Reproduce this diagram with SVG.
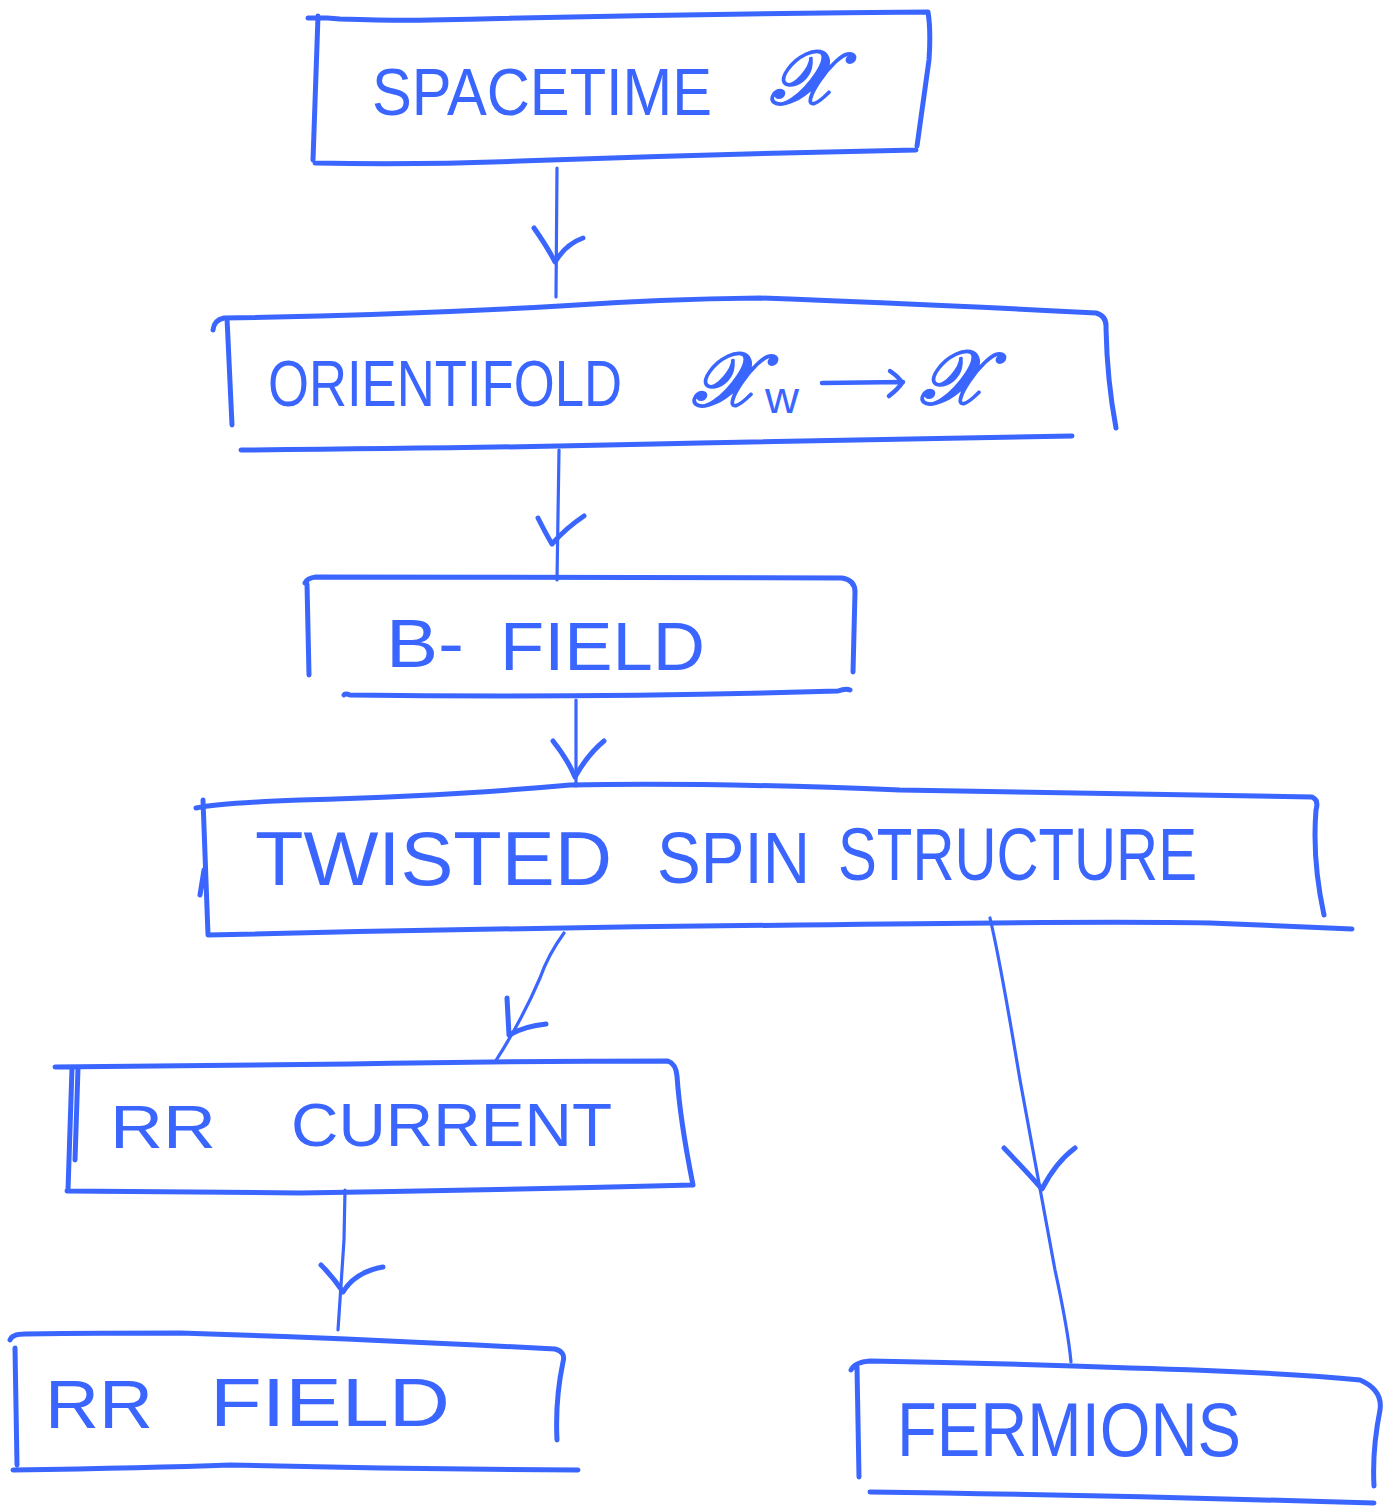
<svg xmlns="http://www.w3.org/2000/svg" width="1390" height="1508" viewBox="0 0 1390 1508">
  <style>
    .ink { fill: none; stroke: #3a66ff; stroke-linecap: round; stroke-linejoin: round; }
    .frame { stroke-width: 5; }
    .wire { stroke-width: 3.2; }
    .head { stroke-width: 5; }
    .label { fill: #3a66ff; font-family: "Liberation Sans", "DejaVu Sans", sans-serif; font-weight: normal; }
    .math { fill: #3a66ff; stroke: #3a66ff; stroke-width: 2.5; stroke-linejoin: round; font-family: "DejaVu Serif", "Liberation Serif", serif; font-style: italic; }
  </style>
  <rect width="1390" height="1508" fill="#ffffff"/>

  <!-- connectors -->
  <g id="connectors" class="ink">
    <path class="wire" d="M557 168 L556 297"/>
    <path class="head" d="M534 228 Q548 248 555 262 Q566 244 583 238"/>

    <path class="wire" d="M559 450 L557 580"/>
    <path class="head" d="M538 518 Q546 534 552 544 Q566 528 584 516"/>

    <path class="wire" d="M576 700 L576 786"/>
    <path class="head" d="M553 741 Q568 760 575 777 Q588 754 604 741"/>

    <path class="wire" d="M564 933 Q548 955 540 978 Q522 1020 495 1062"/>
    <path class="head" d="M507 998 L509 1035 Q525 1026 546 1024"/>

    <path class="wire" d="M990 918 Q1000 960 1020 1080 Q1040 1190 1055 1270 Q1068 1330 1071 1362"/>
    <path class="head" d="M1004 1148 Q1025 1170 1042 1189 Q1056 1162 1075 1148"/>

    <path class="wire" d="M345 1190 L344 1240 L338 1330"/>
    <path class="head" d="M321 1265 Q334 1278 343 1292 Q355 1272 383 1267"/>
  </g>

  <!-- spacetime -->
  <g id="node-spacetime">
    <path class="ink frame" d="M308 18 Q320 17 340 19 Q400 21 430 20 Q680 14 928 12 Q931 30 929 60 L917 146 M318 16 L313 160 M315 163 Q420 165 520 161 Q720 154 916 150"/>
    <text class="label" x="372" y="115" font-size="66" textLength="340" lengthAdjust="spacingAndGlyphs">SPACETIME</text>
    <text class="math" x="770" y="104" font-size="76">𝒳</text>
  </g>

  <!-- orientifold -->
  <g id="node-orientifold">
    <path class="ink frame" d="M213 330 Q214 320 224 318 Q400 315 560 306 Q660 299 760 298 Q900 303 1096 313 Q1107 316 1106 328 Q1107 380 1116 428 M227 318 L232 425 M241 450 Q500 448 700 443 Q900 440 1072 436"/>
    <text class="label" x="268" y="406" font-size="64" textLength="354" lengthAdjust="spacingAndGlyphs">ORIENTIFOLD</text>
    <text class="math" x="692" y="406" font-size="76">𝒳</text>
    <text class="label" x="765" y="413" font-size="44" textLength="34" lengthAdjust="spacingAndGlyphs">w</text>
    <path class="ink" stroke-width="4.5" d="M822 383 L903 382 M890 371 Q900 378 902 383 Q898 389 889 396"/>
    <text class="math" x="920" y="404" font-size="76">𝒳</text>
  </g>

  <!-- b-field -->
  <g id="node-bfield">
    <path class="ink frame" d="M305 583 Q307 578 316 577 Q550 578 842 578 Q855 580 855 592 L853 672 M307 584 L309 675 M344 695 Q345 693 350 695 Q600 698 838 691 Q846 688 850 690"/>
    <text class="label" x="386" y="667" font-size="68" textLength="78" lengthAdjust="spacingAndGlyphs">B-</text>
    <text class="label" x="500" y="670" font-size="68" textLength="205" lengthAdjust="spacingAndGlyphs">FIELD</text>
  </g>

  <!-- twisted spin structure -->
  <g id="node-twisted">
    <path class="ink frame" d="M196 808 Q220 803 300 800 Q450 796 570 785 Q700 782 900 790 Q1200 795 1312 797 Q1319 800 1316 810 Q1312 860 1324 915 M203 800 L208 935 M204 870 L200 895 M208 935 Q500 928 800 925 Q1100 921 1210 923 Q1280 926 1352 929"/>
    <text class="label" x="255" y="885" font-size="76" textLength="357" lengthAdjust="spacingAndGlyphs">TWISTED</text>
    <text class="label" x="657" y="883" font-size="72" textLength="153" lengthAdjust="spacingAndGlyphs">SPIN</text>
    <text class="label" x="838" y="880" font-size="74" textLength="359" lengthAdjust="spacingAndGlyphs">STRUCTURE</text>
  </g>

  <!-- rr current -->
  <g id="node-rrcurrent">
    <path class="ink frame" d="M55 1067 Q200 1066 350 1064 Q520 1061 668 1061 Q676 1064 677 1076 Q680 1120 693 1185 M72 1068 L68 1190 M78 1068 L75 1160 M67 1191 Q200 1192 300 1193 Q500 1190 693 1185"/>
    <text class="label" x="110" y="1148" font-size="62" textLength="106" lengthAdjust="spacingAndGlyphs">RR</text>
    <text class="label" x="291" y="1146" font-size="62" textLength="321" lengthAdjust="spacingAndGlyphs">CURRENT</text>
  </g>

  <!-- rr field -->
  <g id="node-rrfield">
    <path class="ink frame" d="M10 1340 Q12 1334 25 1334 Q100 1333 180 1333 Q350 1338 555 1349 Q566 1352 563 1362 Q555 1400 557 1440 M15 1348 L17 1465 M13 1470 Q150 1468 230 1465 Q400 1469 578 1470"/>
    <text class="label" x="45" y="1428" font-size="68" textLength="108" lengthAdjust="spacingAndGlyphs">RR</text>
    <text class="label" x="210" y="1426" font-size="68" textLength="240" lengthAdjust="spacingAndGlyphs">FIELD</text>
  </g>

  <!-- fermions -->
  <g id="node-fermions">
    <path class="ink frame" d="M851 1370 Q855 1362 870 1361 Q1000 1363 1130 1368 Q1280 1372 1360 1380 Q1383 1390 1380 1410 Q1372 1450 1374 1486 M857 1367 L859 1477 M870 1492 Q1100 1495 1374 1503"/>
    <text class="label" x="897" y="1456" font-size="76" textLength="344" lengthAdjust="spacingAndGlyphs">FERMIONS</text>
  </g>
</svg>
